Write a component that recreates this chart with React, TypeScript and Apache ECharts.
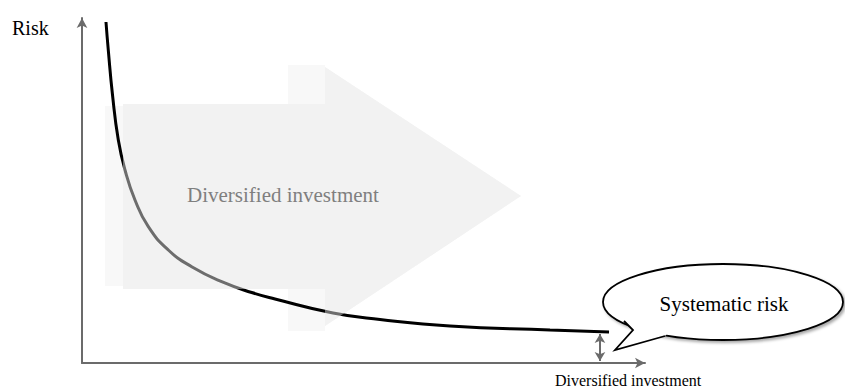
import React, { useEffect, useRef } from "react";
import * as echarts from "echarts";

// Risk curve (x: diversification 0-100, y: risk 0-100)
const curveX = [4.26, 4.67, 5.42, 6.45, 7.64, 9.41, 11.78, 15.33, 19.48, 24.81, 30.14, 34.28, 44.58, 52.93, 65.36, 83.13, 93.61];
const curveY = [98.84, 90.72, 77.68, 64.64, 55.94, 47.25, 39.51, 32.75, 27.91, 23.57, 20.43, 18.55, 14.49, 12.61, 10.72, 9.57, 8.99];
const systematicX = 92.0;
const systematicTop = 8.4;
const systematicBottom = 0.6;

const yAxisLabel = "Risk";
const xAxisLabel = "Diversified investment";
const arrowLabel = "Diversified investment";
const bubbleLabel = "Systematic risk";

const SERIF = "Liberation Serif";

export default function App() {
  const ref = useRef<HTMLDivElement>(null);
  useEffect(() => {
    if (!ref.current) return;
    const chart = echarts.init(ref.current, null, { renderer: "svg" });
    const arrowPts = [
      [123, 104], [325, 104], [325, 67], [521, 196], [325, 326], [325, 289], [123, 289],
    ];
    const option: any = {
      animation: false,
      backgroundColor: "#ffffff",
      grid: { left: 82, right: 200, top: 18, bottom: 24 },
      xAxis: {
        type: "value",
        min: 0,
        max: 100,
        axisLine: {
          show: true,
          onZero: false,
          symbol: ["none", "arrow"],
          symbolSize: [8, 10],
          lineStyle: { color: "#6b6b6b", width: 2 },
        },
        axisTick: { show: false },
        axisLabel: { show: false },
        splitLine: { show: false },
      },
      yAxis: {
        type: "value",
        min: 0,
        max: 100,
        axisLine: {
          show: true,
          onZero: false,
          symbol: ["none", "arrow"],
          symbolSize: [8, 10],
          lineStyle: { color: "#6b6b6b", width: 2 },
        },
        axisTick: { show: false },
        axisLabel: { show: false },
        splitLine: { show: false },
      },
      series: [
        {
          type: "line",
          data: curveX.map((x, i) => [x, curveY[i]]),
          smooth: true,
          showSymbol: false,
          symbol: "none",
          lineStyle: { color: "#000000", width: 3, cap: "butt" },
          z: 2,
          markLine: {
            silent: true,
            symbol: ["arrow", "arrow"],
            symbolSize: [8, 9],
            label: { show: false },
            lineStyle: { color: "#6b6b6b", width: 2, type: "solid" },
            data: [
              [
                { coord: [systematicX, systematicTop] },
                { coord: [systematicX, systematicBottom] },
              ],
            ],
          },
        },
      ],
      graphic: [
        // faint dotted-looking fringes
        { type: "rect", z: 0, shape: { x: 105, y: 106, width: 18, height: 180 }, style: { fill: "#f8f8f8" } },
        { type: "rect", z: 0, shape: { x: 288, y: 65, width: 37, height: 39 }, style: { fill: "#f8f8f8" } },
        { type: "rect", z: 0, shape: { x: 288, y: 289, width: 37, height: 42 }, style: { fill: "#f8f8f8" } },
        // arrow background (below the curve)
        { type: "polygon", z: 1, shape: { points: arrowPts }, style: { fill: "#f2f2f2" } },
        // arrow overlay (above the curve, translucent)
        { type: "polygon", z: 3, shape: { points: arrowPts }, style: { fill: "#f2f2f2", opacity: 0.45 } },
        {
          type: "text",
          z: 4,
          x: 187,
          y: 195,
          style: {
            text: arrowLabel,
            fill: "#7f7f7f",
            fontFamily: SERIF,
            fontSize: 21,
            verticalAlign: "middle",
          },
        },
        {
          type: "text",
          z: 4,
          x: 12,
          y: 28,
          style: {
            text: yAxisLabel,
            fill: "#000000",
            fontFamily: SERIF,
            fontSize: 20,
            verticalAlign: "middle",
          },
        },
        {
          type: "text",
          z: 4,
          x: 555,
          y: 380,
          style: {
            text: xAxisLabel,
            fill: "#000000",
            fontFamily: SERIF,
            fontSize: 16,
            verticalAlign: "middle",
          },
        },
        // speech bubble
        {
          type: "ellipse",
          z: 5,
          shape: { cx: 723, cy: 302, rx: 120, ry: 38 },
          style: {
            fill: "#ffffff",
            stroke: "#000000",
            lineWidth: 1.8,
            shadowBlur: 3,
            shadowColor: "rgba(0,0,0,0.35)",
            shadowOffsetX: 2,
            shadowOffsetY: 2,
          },
        },
        {
          type: "polygon",
          z: 6,
          shape: { points: [[624, 321], [633, 330], [615, 350], [665, 336], [680, 320], [640, 315]] },
          style: { fill: "#ffffff" },
        },
        {
          type: "polyline",
          z: 7,
          shape: { points: [[624, 321], [633, 330], [615, 350], [665, 336]] },
          style: { stroke: "#000000", lineWidth: 1.8, fill: "none" },
        },
        {
          type: "text",
          z: 8,
          x: 724,
          y: 304,
          style: {
            text: bubbleLabel,
            fill: "#000000",
            fontFamily: SERIF,
            fontSize: 21,
            align: "center",
            verticalAlign: "middle",
          },
        },
      ],
    };
    chart.setOption(option);
    return () => chart.dispose();
  }, []);
  return (
    <div
      ref={ref}
      style={{ position: "fixed", left: 0, top: 0, width: 845, height: 387, background: "#fff" }}
    />
  );
}
